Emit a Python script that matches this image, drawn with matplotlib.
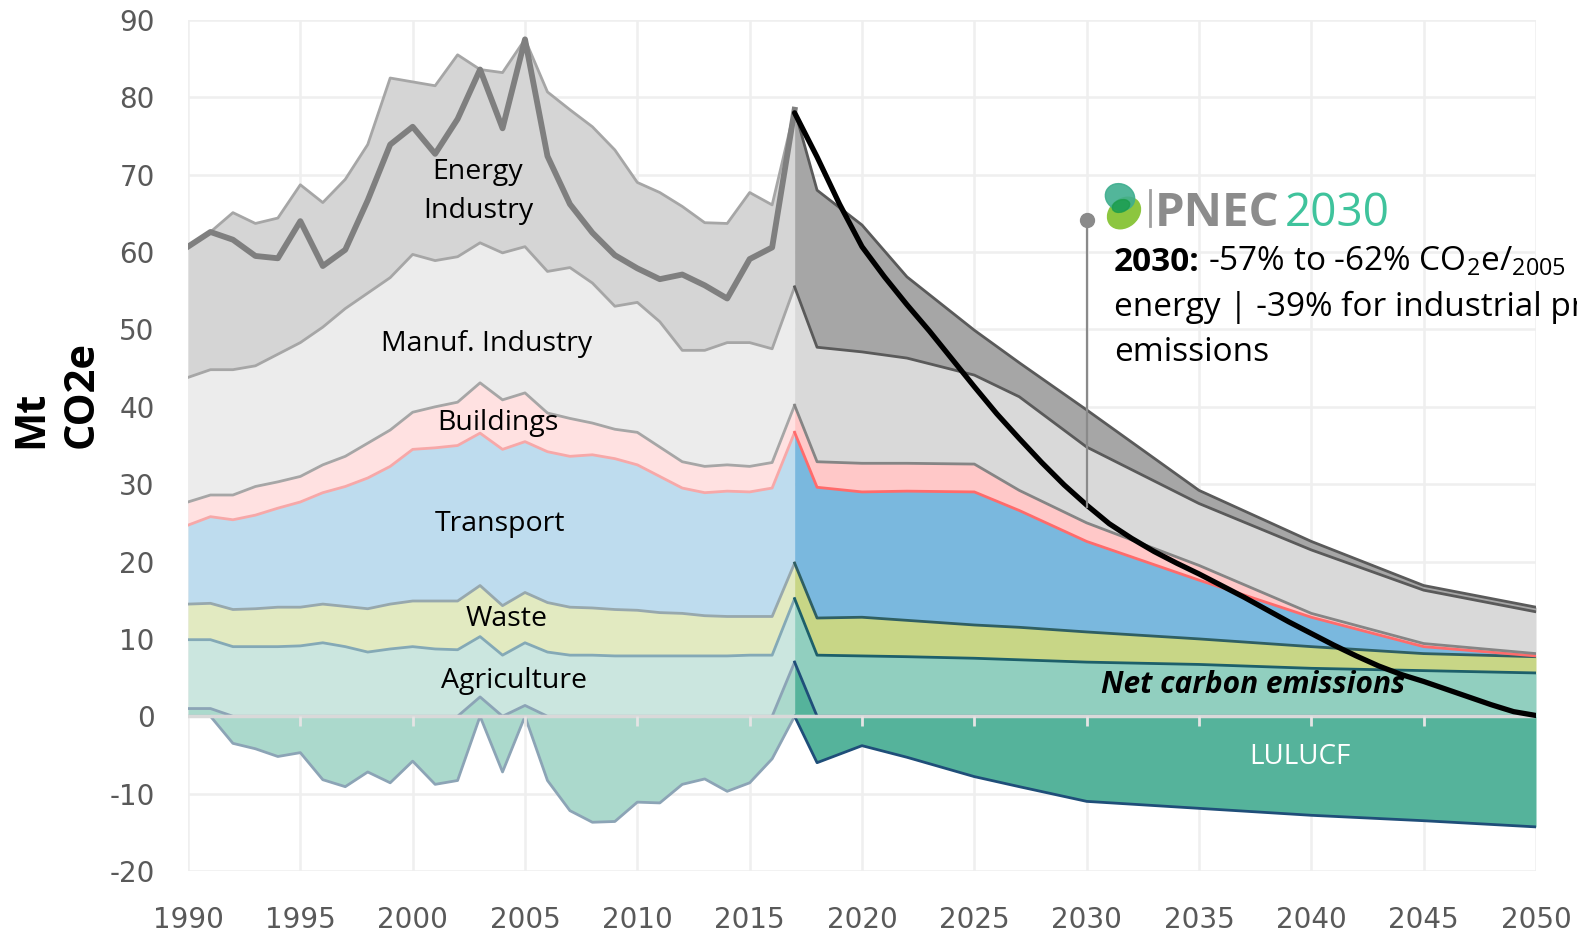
import matplotlib
matplotlib.use('Agg')
import matplotlib.pyplot as plt
from matplotlib.patches import Ellipse
import numpy as np

# Mt CO2e per sector, historical 1990-2017
years_hist = list(range(1990, 2018))
lulucf_hist = [1.0, 1.0, -3.5, -4.2, -5.2, -4.7, -8.2, -9.1, -7.2, -8.6, -5.8, -8.8, -8.3, 2.5,
               -7.2, 1.4, -8.3, -12.2, -13.7, -13.6, -11.1, -11.2, -8.8, -8.1, -9.7, -8.6, -5.5, 7.0]
agri_hist = [8.9, 8.9, 9.0, 9.0, 9.0, 9.1, 9.5, 9.0, 8.3, 8.7, 9.0, 8.7, 8.6, 7.8,
             7.9, 8.1, 8.3, 7.9, 7.9, 7.8, 7.8, 7.8, 7.8, 7.8, 7.8, 7.9, 7.9, 8.2]
waste_hist = [4.6, 4.7, 4.8, 4.9, 5.1, 5.0, 5.0, 5.2, 5.6, 5.8, 5.9, 6.2, 6.3, 6.6,
              6.4, 6.5, 6.4, 6.2, 6.1, 6.0, 5.9, 5.6, 5.5, 5.2, 5.1, 5.0, 5.0, 4.6]
transport_hist = [10.2, 11.2, 11.6, 12.1, 12.8, 13.6, 14.4, 15.5, 16.9, 17.8, 19.6, 19.8, 20.1, 19.7,
                  20.2, 19.5, 19.5, 19.5, 19.8, 19.5, 18.8, 17.6, 16.2, 15.9, 16.2, 16.1, 16.6, 16.9]
buildings_hist = [3.0, 2.8, 3.2, 3.7, 3.4, 3.3, 3.6, 3.9, 4.5, 4.7, 4.8, 5.3, 5.6, 6.5,
                  6.4, 6.3, 5.0, 4.9, 4.1, 3.8, 4.2, 3.8, 3.4, 3.4, 3.4, 3.3, 3.3, 3.5]
manuf_hist = [16.1, 16.2, 16.2, 15.6, 16.5, 17.3, 17.8, 19.1, 19.4, 19.7, 20.4, 18.9, 18.8, 18.1,
              19.0, 18.9, 18.3, 19.5, 18.1, 15.9, 16.8, 16.2, 14.4, 15.0, 15.8, 16.0, 14.7, 15.3]
energy_hist = [16.9, 17.8, 20.3, 18.4, 17.6, 20.4, 16.1, 16.7, 19.2, 25.8, 22.3, 22.6, 26.1, 22.4,
               23.3, 26.8, 23.2, 20.4, 20.2, 20.2, 15.5, 16.7, 18.6, 16.5, 15.4, 19.4, 18.6, 22.9]

# PNEC projection
years_proj = [2017, 2018, 2020, 2022, 2025, 2027, 2030, 2035, 2040, 2045, 2050]
lulucf_proj = [7.0, -6.0, -3.8, -5.3, -7.8, -9.1, -11.0, -11.9, -12.8, -13.5, -14.3]
agri_proj = [8.2, 7.9, 7.8, 7.7, 7.5, 7.3, 7.0, 6.7, 6.2, 5.9, 5.6]
waste_proj = [4.6, 4.8, 5.0, 4.7, 4.3, 4.2, 3.9, 3.3, 2.8, 2.2, 2.1]
transport_proj = [16.9, 16.9, 16.2, 16.7, 17.2, 15.1, 11.7, 7.6, 3.8, 0.9, 0.1]
buildings_proj = [3.5, 3.3, 3.7, 3.6, 3.6, 2.6, 2.4, 1.9, 0.5, 0.4, 0.3]
manuf_proj = [15.3, 14.8, 14.4, 13.6, 11.5, 12.1, 9.8, 8.0, 8.2, 6.9, 5.4]
energy_proj = [22.9, 20.3, 16.4, 10.5, 5.8, 4.4, 4.8, 1.7, 1.1, 0.6, 0.6]

net_years = list(range(2017, 2051))
net_proj = [78.0, 72.3, 66.2, 60.7, 56.8, 53.2, 49.8, 46.2, 42.6, 39.1, 35.9, 32.8, 29.9, 27.3,
            24.9, 23.0, 21.3, 19.8, 18.4, 16.9, 15.4, 13.8, 12.2, 10.7, 9.2, 7.8, 6.5, 5.4,
            4.5, 3.5, 2.5, 1.5, 0.6, 0.1]

sector_names = ['Agriculture', 'Waste', 'Transport', 'Buildings', 'Manuf. Industry', 'Energy\nIndustry']

fill_hist = ['#cbe6df', '#e2eac1', '#bedcee', '#ffe1e1', '#ececec', '#d5d5d5']
line_hist = ['#84a9b6', '#97a8ad', '#f7a8a8', '#a6a6a6', '#a6a6a6', '#a6a6a6']
fill_proj = ['#91cfbf', '#c8d686', '#7ab8de', '#ffc8c8', '#d9d9d9', '#a6a6a6']
line_proj = ['#1d5f6a', '#2f5f63', '#ff6b6b', '#858585', '#5a5a5a', '#5a5a5a']

W, H = 1577, 935
plt.rcParams['font.family'] = ['Open Sans', 'DejaVu Sans']
plt.rcParams['mathtext.default'] = 'regular'
plt.rcParams['axes.unicode_minus'] = False

fig = plt.figure(figsize=(W / 100, H / 100), dpi=100)
ax = fig.add_axes([188 / W, 1 - 871 / H, (1536 - 188) / W, (871 - 20) / H])


def draw_stack(years, lulucf, sectors, fills, lines, lu_fill, lu_line):
    x = np.array(years, dtype=float)
    l = np.array(lulucf)
    pos = np.clip(l, 0, None)
    neg = np.clip(l, None, 0)
    ax.fill_between(x, neg, 0, color=lu_fill, lw=0, zorder=2)
    ax.fill_between(x, 0, pos, color=lu_fill, lw=0, zorder=2)
    bottom = pos
    tops = []
    for vals, fc in zip(sectors, fills):
        top = bottom + np.array(vals)
        ax.fill_between(x, bottom, top, color=fc, lw=0, zorder=2)
        tops.append(top)
        bottom = top
    ax.plot(x, neg, color=lu_line, lw=2, zorder=3)
    ax.plot(x, pos, color=lu_line, lw=2, zorder=3)
    for top, lc in zip(tops, lines):
        ax.plot(x, top, color=lc, lw=2, zorder=3)
    return bottom + neg  # net emissions


net_hist = draw_stack(years_hist, lulucf_hist,
                      [agri_hist, waste_hist, transport_hist, buildings_hist, manuf_hist, energy_hist],
                      fill_hist, line_hist, '#abd9cc', '#8ca4b6')
draw_stack(years_proj, lulucf_proj,
           [agri_proj, waste_proj, transport_proj, buildings_proj, manuf_proj, energy_proj],
           fill_proj, line_proj, '#55b39b', '#1f4e79')

ax.plot(years_hist, net_hist, color='#7f7f7f', lw=4.2, zorder=5, solid_joinstyle='round')
ax.plot(net_years, net_proj, color='black', lw=3.8, zorder=6, solid_capstyle='round')

# zero axis with small ticks
ax.axhline(0, color='#d9d9d9', lw=2.5, zorder=4)
ax.vlines(range(1995, 2050, 5), -1.3, 0, color='#e4e4e4', lw=2, zorder=4)

ax.set_xlim(1990, 2050)
ax.set_ylim(-20, 90)
ax.set_xticks(range(1990, 2051, 5))
ax.set_yticks(range(-20, 91, 10))
ax.tick_params(length=0, labelsize=20, labelcolor='#595959')
ax.tick_params(axis='y', pad=24)
ax.tick_params(axis='x', pad=25)
for lab in ax.get_xticklabels() + ax.get_yticklabels():
    lab.set_family('DejaVu Sans')
ax.grid(color='#efefef', lw=1.8)
ax.set_axisbelow(True)
for s in ax.spines.values():
    s.set_visible(False)

# sector labels
label_pos = [(2004.5, 4.6), (2004.2, 12.6), (2003.9, 24.9), (2003.8, 37.9), (2003.3, 48.1), (2002.9, 67.8)]
for name, (lx, ly) in zip(sector_names, label_pos):
    ax.text(lx, ly, name, fontsize=20.5, ha='center', va='center', zorder=7, linespacing=1.5)
ax.text(2037.4, 4.0, 'Net carbon emissions', fontsize=21.5, fontweight='bold', fontstyle='italic',
        ha='center', va='center', zorder=5)
ax.text(2039.5, -5.2, 'LULUCF', fontsize=20, color='white', ha='center', va='center', zorder=7)

# 2030 marker
ax.plot([2030, 2030], [27.1, 64.1], color='#8a8a8a', lw=1.6, zorder=7)
ax.plot(2030, 64.1, 'o', ms=10, color='#8a8a8a', zorder=7)

fig.text(57 / W, 1 - 395 / H, 'Mt\nCO2e', rotation=90, fontsize=30, fontweight='bold',
         ha='center', va='center', multialignment='left', linespacing=1.3)

# PNEC logo
lax = fig.add_axes([1098 / W, 1 - 235 / H, 52 / W, 58 / H])
lax.set_xlim(1098, 1150)
lax.set_ylim(235, 177)
lax.axis('off')
lax.add_patch(Ellipse((1124, 213), 36, 28, angle=-40, color='#8cc63f'))
lax.add_patch(Ellipse((1120, 197), 30, 26, angle=25, color='#3fae8f', alpha=0.9))
lax.add_patch(Ellipse((1121, 206), 18, 12, angle=-20, color='#1a9d4b', alpha=0.8))
fig.add_artist(plt.Line2D([1150 / W, 1150 / W], [1 - 190 / H, 1 - 226 / H], color='#a0a0a0', lw=2))
fig.text(1155 / W, 1 - 226 / H, 'PNEC', fontsize=34, fontweight='bold', color='#8c8c8c', va='baseline')
fig.text(1285 / W, 1 - 226 / H, '2030', fontsize=33, color='#3fc39c', va='baseline')

# annotation text
t1 = fig.text(1114 / W, 1 - 271 / H, '2030:', fontsize=24, fontweight='bold', va='baseline')
fig.canvas.draw()
bb = t1.get_window_extent()
fig.text((bb.x1 + 8) / W, 1 - 271 / H, '-57% to -62% CO$_2$e/$_{2005}$', fontsize=24, va='baseline')
fig.text(1114 / W, 1 - 316 / H, 'energy | -39% for industrial processes', fontsize=24, va='baseline')
fig.text(1114 / W, 1 - 361 / H, 'emissions', fontsize=24, va='baseline')

fig.savefig('out.png', dpi=100)
